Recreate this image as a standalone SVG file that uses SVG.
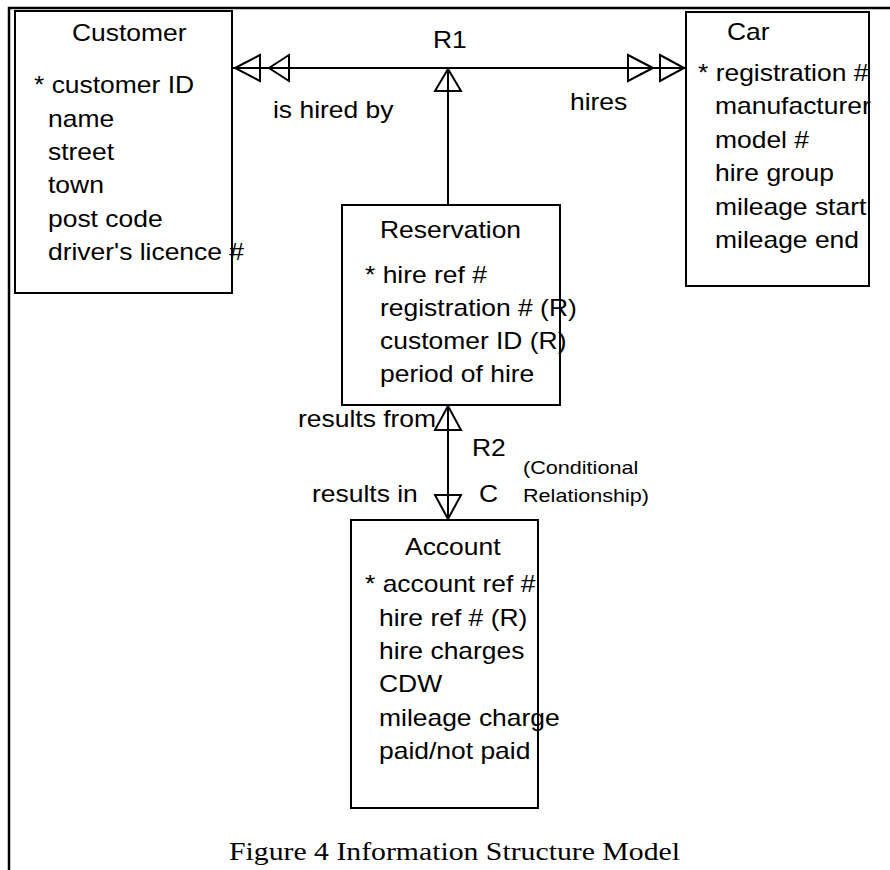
<svg xmlns="http://www.w3.org/2000/svg" width="890" height="870" viewBox="0 0 890 870">
<style>
.box{fill:#fff;stroke:#000;stroke-width:2}
.frame{fill:none;stroke:#000;stroke-width:2.5}
.t{font-family:"Liberation Sans",Arial,sans-serif;font-size:23px;fill:#000}
.s{font-family:"Liberation Sans",Arial,sans-serif;font-size:18px;fill:#000}
.cap{font-family:"Liberation Serif","Times New Roman",serif;font-size:25px;fill:#000}
.ln{fill:none;stroke:#000;stroke-width:2}
.ah{fill:none;stroke:#000;stroke-width:2;stroke-linejoin:miter}
</style>
<rect width="890" height="870" fill="#fff"/>
<path class="frame" d="M9,870 V8 H890"/>
<g id="customer">
<rect class="box" x="15" y="11" width="217" height="282"/>
<text class="t" transform="translate(72 41) scale(1.15 1)">Customer</text>
<text class="t" transform="translate(34 93) scale(1.15 1)">* customer ID</text>
<text class="t" transform="translate(48 126.5) scale(1.15 1)">name</text>
<text class="t" transform="translate(48 160) scale(1.15 1)">street</text>
<text class="t" transform="translate(48 193) scale(1.15 1)">town</text>
<text class="t" transform="translate(48 226.5) scale(1.15 1)">post code</text>
<text class="t" transform="translate(48 260) scale(1.15 1)">driver's licence #</text>
</g>
<g id="car">
<rect class="box" x="686" y="12" width="183" height="274"/>
<text class="t" transform="translate(727 40) scale(1.15 1)">Car</text>
<text class="t" transform="translate(698 81) scale(1.15 1)">* registration #</text>
<text class="t" transform="translate(715 114) scale(1.15 1)">manufacturer</text>
<text class="t" transform="translate(715 147.5) scale(1.15 1)">model #</text>
<text class="t" transform="translate(715 181) scale(1.15 1)">hire group</text>
<text class="t" transform="translate(715 214.5) scale(1.15 1)">mileage start</text>
<text class="t" transform="translate(715 248) scale(1.15 1)">mileage end</text>
</g>
<g id="reservation">
<rect class="box" x="342" y="205" width="218" height="200"/>
<text class="t" transform="translate(380 238) scale(1.15 1)">Reservation</text>
<text class="t" transform="translate(365 283) scale(1.15 1)">* hire ref #</text>
<text class="t" transform="translate(380 316) scale(1.15 1)">registration # (R)</text>
<text class="t" transform="translate(380 349) scale(1.15 1)">customer ID (R)</text>
<text class="t" transform="translate(380 382) scale(1.15 1)">period of hire</text>
</g>
<g id="account">
<rect class="box" x="351" y="520" width="187" height="288"/>
<text class="t" transform="translate(405 555) scale(1.15 1)">Account</text>
<text class="t" transform="translate(365 592) scale(1.15 1)">* account ref #</text>
<text class="t" transform="translate(379 625.5) scale(1.15 1)">hire ref # (R)</text>
<text class="t" transform="translate(379 659) scale(1.15 1)">hire charges</text>
<text class="t" transform="translate(379 692) scale(1.15 1)">CDW</text>
<text class="t" transform="translate(379 725.5) scale(1.15 1)">mileage charge</text>
<text class="t" transform="translate(379 759) scale(1.15 1)">paid/not paid</text>
</g>
<g id="connectors">
<line class="ln" x1="232" y1="68" x2="686" y2="68"/>
<line class="ln" x1="448" y1="68" x2="448" y2="205"/>
<line class="ln" x1="448" y1="405" x2="448" y2="520"/>
<polygon class="ah" points="235,68 260,55 260,81"/>
<polygon class="ah" points="269,68 289,55 289,81"/>
<polygon class="ah" points="653,68 628,55 628,81"/>
<polygon class="ah" points="684,68 660,55 660,81"/>
<polygon class="ah" points="448,69 435,91 461,91"/>
<polygon class="ah" points="448,406 435,430 461,430"/>
<polygon class="ah" points="448,519 435,495 461,495"/>
<text class="t" transform="translate(433 48) scale(1.15 1)">R1</text>
<text class="t" transform="translate(273 118) scale(1.15 1)">is hired by</text>
<text class="t" transform="translate(570 110) scale(1.15 1)">hires</text>
<text class="t" transform="translate(298 427) scale(1.15 1)">results from</text>
<text class="t" transform="translate(472 456) scale(1.15 1)">R2</text>
<text class="t" transform="translate(312 502) scale(1.15 1)">results in</text>
<text class="t" transform="translate(479 502) scale(1.15 1)">C</text>
<text class="s" transform="translate(523 474) scale(1.2 1)">(Conditional</text>
<text class="s" transform="translate(523 502) scale(1.2 1)">Relationship)</text>
</g>
<text class="cap" transform="translate(229 860) scale(1.19 1)">Figure 4 Information Structure Model</text>
</svg>
